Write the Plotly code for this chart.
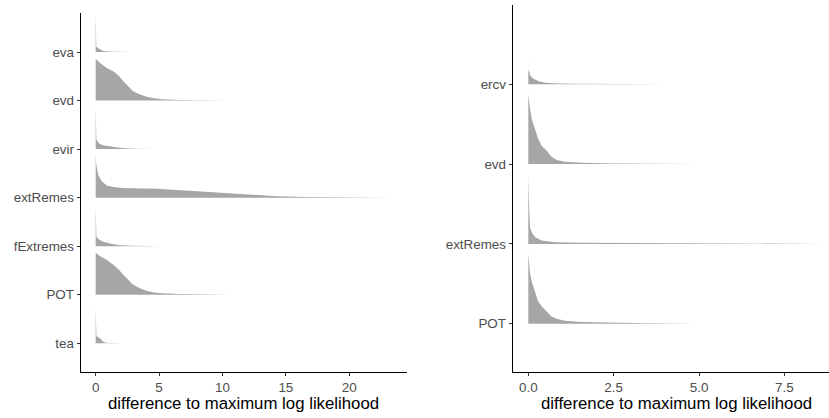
import plotly.graph_objects as go

# ---------------- data ----------------
# Left panel categories, bottom -> top
left_categories = ["tea", "POT", "fExtremes", "extRemes", "evir", "evd", "eva"]
# x: difference to maximum log likelihood ; h: scaled density height (in ridge units)
left_eva_x = [0, 0.006, 0.05, 0.3, 0.6, 1.0, 2.7]
left_eva_h = [0.80, 0.12, 0.11, 0.06, 0.02, 0.008, 0.0]

left_evd_x = [0, 0.05, 0.35, 0.87, 1.39, 1.8, 2.18, 2.6, 2.96, 3.5, 4.0, 4.6, 5.3, 6.6, 8.0, 10.6]
left_evd_h = [0.864, 0.844, 0.776, 0.673, 0.603, 0.514, 0.397, 0.288, 0.191, 0.123, 0.076, 0.045, 0.027, 0.014, 0.006, 0.0]

left_evir_x = [0, 0.006, 0.06, 0.3, 0.6, 1.1, 1.5, 2.0, 3.0, 4.8]
left_evir_h = [0.885, 0.206, 0.191, 0.113, 0.082, 0.058, 0.037, 0.021, 0.008, 0.0]

left_extRemes_x = [0, 0.05, 0.2, 0.47, 0.87, 1.39, 2.18, 4.8, 7.4, 10.06, 12.2, 14.3, 16.6, 19.5, 23.3]
left_extRemes_h = [0.891, 0.679, 0.473, 0.344, 0.253, 0.220, 0.200, 0.185, 0.144, 0.103, 0.056, 0.027, 0.014, 0.006, 0.0]

left_fExtremes_x = [0, 0.006, 0.06, 0.3, 0.6, 1.13, 1.92, 3.0, 5.1]
left_fExtremes_h = [0.817, 0.206, 0.191, 0.134, 0.091, 0.056, 0.021, 0.008, 0.0]

left_POT_x = [0, 0.05, 0.35, 0.87, 1.39, 1.8, 2.18, 2.6, 2.96, 3.5, 4.0, 4.6, 5.3, 6.6, 8.0, 10.6]
left_POT_h = [0.870, 0.854, 0.792, 0.720, 0.617, 0.525, 0.412, 0.298, 0.206, 0.134, 0.082, 0.049, 0.031, 0.014, 0.006, 0.0]

left_tea_x = [0, 0.006, 0.06, 0.34, 0.6, 0.8, 1.3, 2.1]
left_tea_h = [0.741, 0.154, 0.144, 0.103, 0.035, 0.014, 0.006, 0.0]

# Right panel categories, bottom -> top
right_categories = ["POT", "extRemes", "evd", "ercv"]
right_ercv_x = [0, 0.003, 0.03, 0.05, 0.15, 0.29, 0.49, 0.88, 1.5, 2.5, 4.2]
right_ercv_h = [0.388, 0.175, 0.154, 0.113, 0.071, 0.041, 0.021, 0.010, 0.006, 0.004, 0.0]

right_evd_x = [0, 0.02, 0.05, 0.1, 0.2, 0.29, 0.39, 0.54, 0.68, 0.83, 1.07, 1.56, 2.5, 3.5, 4.95]
right_evd_h = [0.877, 0.777, 0.689, 0.564, 0.414, 0.313, 0.229, 0.167, 0.091, 0.050, 0.029, 0.016, 0.006, 0.004, 0.0]

right_extRemes_x = [0, 0.006, 0.02, 0.05, 0.1, 0.2, 0.39, 0.78, 1.56, 3.0, 5.0, 7.0, 8.7]
right_extRemes_h = [0.877, 0.627, 0.501, 0.209, 0.147, 0.084, 0.041, 0.021, 0.013, 0.010, 0.008, 0.005, 0.0]

right_POT_x = [0, 0.02, 0.05, 0.1, 0.2, 0.29, 0.39, 0.54, 0.68, 0.83, 1.07, 1.56, 2.5, 3.5, 4.95]
right_POT_h = [0.883, 0.752, 0.635, 0.530, 0.385, 0.279, 0.217, 0.154, 0.091, 0.063, 0.038, 0.021, 0.009, 0.005, 0.0]

left_xticks = [0, 5, 10, 15, 20]
left_xticktext = ["0", "5", "10", "15", "20"]
right_xticks = [0, 2.5, 5.0, 7.5]
right_xticktext = ["0.0", "2.5", "5.0", "7.5"]
axis_title = "difference to maximum log likelihood"

left_series = {
    "eva": (left_eva_x, left_eva_h),
    "evd": (left_evd_x, left_evd_h),
    "evir": (left_evir_x, left_evir_h),
    "extRemes": (left_extRemes_x, left_extRemes_h),
    "fExtremes": (left_fExtremes_x, left_fExtremes_h),
    "POT": (left_POT_x, left_POT_h),
    "tea": (left_tea_x, left_tea_h),
}
right_series = {
    "ercv": (right_ercv_x, right_ercv_h),
    "evd": (right_evd_x, right_evd_h),
    "extRemes": (right_extRemes_x, right_extRemes_h),
    "POT": (right_POT_x, right_POT_h),
}

FILL = "#A6A6A6"
W, H = 829, 418

fig = go.Figure()


def add_ridges(cats, series, xa, ya):
    # draw from top to bottom so lower ridges lie in front
    for i in range(len(cats) - 1, -1, -1):
        c = cats[i]
        base = i + 1
        xs, hs = series[c]
        px = list(xs) + list(xs[::-1])
        py = [base + h for h in hs] + [base] * len(xs)
        fig.add_trace(go.Scatter(
            x=px, y=py, mode="lines", fill="toself", fillcolor=FILL,
            line=dict(width=0, color=FILL), hoverinfo="skip",
            showlegend=False, xaxis=xa, yaxis=ya))


add_ridges(left_categories, left_series, "x", "y")
add_ridges(right_categories, right_series, "x2", "y2")

font = "Liberation Sans, Arial, Helvetica, sans-serif"
tickfont = dict(family=font, size=13.4, color="#4D4D4D")
common_axis = dict(showgrid=False, zeroline=False, showline=True, linecolor="black",
                   linewidth=1.1, ticks="outside", ticklen=3, tickwidth=1,
                   tickcolor="#333333", tickfont=tickfont)

y_bottom = (H - 371.7) / H
fig.update_layout(
    width=W, height=H, margin=dict(l=0, r=0, t=0, b=0),
    paper_bgcolor="white", plot_bgcolor="white",
    xaxis=dict(domain=[80.7 / W, 406.7 / W], range=[-1.18, 24.53],
               tickvals=left_xticks, ticktext=left_xticktext, anchor="y", **common_axis),
    yaxis=dict(domain=[y_bottom, 1 - 13.3 / H], range=[0.416, 7.797],
               tickvals=list(range(1, len(left_categories) + 1)), ticktext=left_categories,
               anchor="x", **common_axis),
    xaxis2=dict(domain=[512.7 / W, 1.0], range=[-0.457, 8.805],
                tickvals=right_xticks, ticktext=right_xticktext, anchor="y2", **common_axis),
    yaxis2=dict(domain=[y_bottom, 1 - 5 / H], range=[0.398, 4.994],
                tickvals=list(range(1, len(right_categories) + 1)), ticktext=right_categories,
                anchor="x2", **common_axis),
    annotations=[
        dict(text=axis_title, x=243.7 / W, y=1 - 403 / H, xref="paper", yref="paper",
             xanchor="center", yanchor="middle", showarrow=False,
             font=dict(family=font, size=16.8, color="black")),
        dict(text=axis_title, x=676 / W, y=1 - 403 / H, xref="paper", yref="paper",
             xanchor="center", yanchor="middle", showarrow=False,
             font=dict(family=font, size=16.8, color="black")),
    ],
)

fig.write_html("out.html")
